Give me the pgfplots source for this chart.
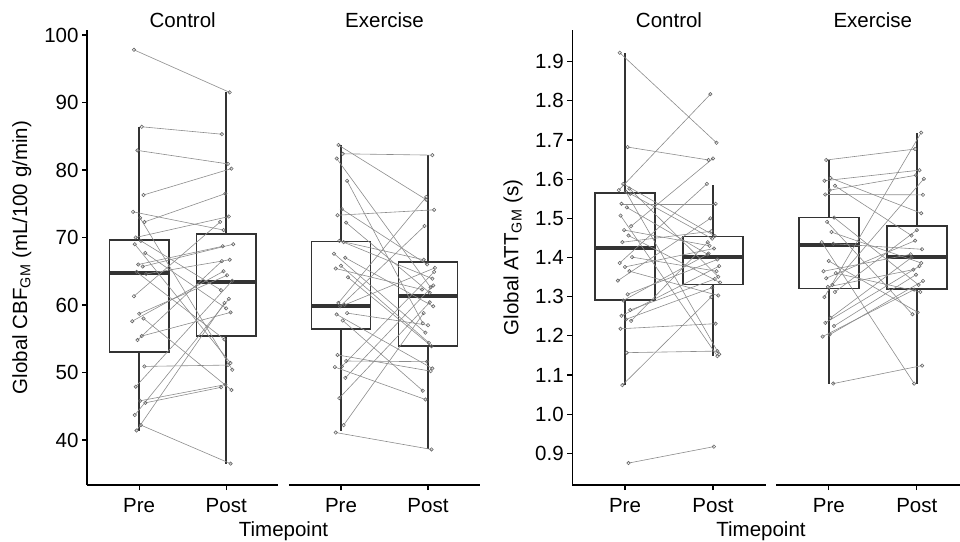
\documentclass[border=0pt]{standalone}
\usepackage{fontspec}
\setmainfont{Liberation Sans}
\usepackage{pgfplots}
\usepackage{pgfplotstable}
\pgfplotsset{compat=1.18}
\usepgfplotslibrary{statistics}
\definecolor{boxc}{HTML}{333333}
\definecolor{linec}{HTML}{8C8C8C}
\definecolor{ptc}{HTML}{666666}
\newcommand{\fs}{\fontsize{20.5}{24}\selectfont}

\pgfplotstableread{
xa a xb b
0.94 97.8 2.04 91.5
1.03 86.4 1.95 85.3
0.98 82.9 2.02 80.9
1.05 76.3 2.06 80.2
0.93 73.8 1.97 71.1
1.01 72.9 2.07 50.4
1.06 72.3 1.99 76.5
0.96 70.0 2.03 73.1
1.02 69.5 1.94 62.2
0.95 69.0 2.05 51.4
1.07 67.7 2.00 59.5
0.99 66.0 1.96 68.7
1.04 65.7 2.08 69.0
0.97 64.9 1.98 54.9
1.08 64.6 2.04 66.7
0.94 61.3 1.93 72.3
1.00 58.7 2.01 64.4
1.05 58.0 2.06 47.4
0.92 57.6 1.97 65.0
1.03 55.4 2.05 58.9
0.98 54.8 1.95 66.5
1.06 50.9 2.02 51.1
0.96 47.9 2.07 63.6
1.01 45.8 1.99 48.2
1.07 45.5 1.94 47.8
0.95 43.7 2.03 60.9
1.02 42.2 2.05 36.5
0.97 41.4 1.98 60.3
}\lctl

\pgfplotstableread{
xa a xb b
0.97 83.7 1.98 75.6
1.02 82.4 2.05 82.2
0.95 81.7 2.03 62.6
1.07 78.4 1.94 57.3
1.01 74.2 1.99 66.0
0.96 73.3 2.07 74.1
1.06 72.2 2.02 61.8
0.98 69.5 1.95 66.7
1.03 69.3 2.05 63.9
0.92 67.6 1.97 55.9
1.05 67.0 2.06 59.8
1.00 65.8 2.01 54.4
0.94 65.4 1.93 62.3
1.08 64.1 2.04 53.9
0.97 60.3 1.98 76.0
1.04 60.0 2.08 65.5
0.99 59.8 1.96 71.7
1.07 58.8 2.00 57.0
0.95 58.6 2.05 50.6
1.02 57.7 1.94 47.3
0.96 52.6 2.03 50.2
1.06 51.7 1.99 51.6
1.01 50.9 2.07 64.9
0.93 50.8 1.97 46.0
1.05 49.2 2.06 62.9
0.98 46.2 2.02 60.4
1.03 42.2 1.95 58.8
0.94 41.1 2.04 38.6
}\lex

\pgfplotstableread{
xa a xb b
0.94 1.923 2.04 1.693
1.03 1.682 1.95 1.649
0.98 1.588 2.02 1.455
1.05 1.576 2.06 1.351
0.93 1.572 1.97 1.817
1.01 1.568 2.07 1.153
1.06 1.563 1.99 1.448
0.96 1.537 2.03 1.537
1.02 1.528 1.94 1.408
0.95 1.507 2.05 1.148
1.07 1.480 2.00 1.653
0.99 1.470 1.96 1.430
1.04 1.456 2.08 1.336
0.97 1.439 1.98 1.467
1.08 1.401 2.04 1.365
0.94 1.386 1.93 1.588
1.00 1.376 2.01 1.423
1.05 1.365 2.06 1.303
0.92 1.341 1.97 1.500
1.03 1.306 2.05 1.395
0.98 1.290 1.95 1.410
1.06 1.266 2.02 1.345
0.96 1.251 2.07 1.378
1.01 1.242 1.99 1.323
1.07 1.238 1.94 1.439
0.95 1.218 2.03 1.231
1.02 1.157 2.05 1.161
0.97 1.074 1.98 1.299
1.04 0.875 2.01 0.917
}\rctl

\pgfplotstableread{
xa a xb b
0.97 1.649 1.98 1.677
1.02 1.603 2.05 1.513
0.95 1.596 2.03 1.623
1.07 1.583 1.94 1.456
1.01 1.572 1.99 1.610
0.96 1.561 2.07 1.560
1.06 1.502 2.02 1.330
0.98 1.491 1.95 1.255
1.03 1.465 2.05 1.386
0.92 1.439 1.97 1.078
1.05 1.435 2.06 1.421
1.00 1.391 2.01 1.260
0.94 1.365 1.93 1.408
1.08 1.360 2.04 1.312
0.97 1.347 1.98 1.443
1.04 1.330 2.08 1.601
0.99 1.325 1.96 1.369
1.07 1.312 2.00 1.470
0.95 1.299 2.05 1.719
1.02 1.246 1.94 1.400
0.96 1.233 2.03 1.378
1.06 1.225 1.99 1.356
1.01 1.203 2.07 1.340
0.93 1.198 1.97 1.318
1.05 1.078 2.06 1.124
}\rex

\pgfplotsset{
  boxplot/draw direction=y,
  boxplot/every median/.style={line width=4pt},
  facet/.style={
    scale only axis, height=455pt, xmin=0.4, xmax=2.6,
    axis x line*=bottom, xtick={1,2}, xticklabels={Pre,Post},
    tick align=outside, major tick length=5pt,
    axis line style={black, line width=1.1pt},
    every tick/.style={black, line width=1.1pt},
    ticklabel style={font=\fs, text=black},
    xticklabel style={yshift=-5pt},
    /pgf/number format/assume math mode=true,
    title style={font=\fs, at={(0.5,1)}, anchor=base, yshift=-4pt},
    ylabel style={font=\fs},
  },
}
\newcommand{\bx}[6]{\addplot[boxc, line width=1.6pt, boxplot prepared={draw position=#1, median=#2, lower quartile=#3, upper quartile=#4, lower whisker=#5, upper whisker=#6, box extend=0.68, whisker extend=0}] coordinates {};}
\newcommand{\pairs}[1]{%
  \addplot[linec, line width=0.6pt, quiver={u=\thisrow{xb}-\thisrow{xa}, v=\thisrow{b}-\thisrow{a}}] table[x=xa,y=a]{#1};
  \addplot[only marks, mark=o, mark size=1.7pt, ptc, mark options={line width=0.6pt}] table[x=xa,y=a]{#1};
  \addplot[only marks, mark=o, mark size=1.7pt, ptc, mark options={line width=0.6pt}] table[x=xb,y=b]{#1};
}

\begin{document}
\begin{tikzpicture}[x=1pt,y=1pt]
\useasboundingbox (0,0) rectangle (960,541);
\clip (0,0) rectangle (960,541);

\begin{axis}[facet, at={(87pt,56pt)}, width=191.4pt, ymin=33.33, ymax=100.74,
  axis y line*=left, ytick={40,50,...,100},
  ylabel={Global CBF\textsubscript{GM} (mL/100 g/min)},
  ylabel style={at={(axis description cs:-0.34,0.5)}, anchor=center},
  title={Control}]
\bx{1}{64.7}{53.0}{69.6}{41.4}{86.4}
\bx{2}{63.4}{55.4}{70.5}{36.5}{91.5}
\pairs{\lctl}
\end{axis}

\begin{axis}[facet, at={(288.8pt,56pt)}, width=191.4pt, ymin=33.33, ymax=100.74,
  hide y axis, title={Exercise}]
\bx{1}{59.9}{56.4}{69.4}{41.3}{83.7}
\bx{2}{61.3}{53.9}{66.4}{38.6}{82.2}
\pairs{\lex}
\end{axis}

\begin{axis}[facet, at={(572.2pt,56pt)}, width=193.6pt, ymin=0.819, ymax=1.981,
  axis y line*=left, ytick={0.9,1.0,1.1,1.2,1.3,1.4,1.5,1.6,1.7,1.8,1.9},
  yticklabel style={/pgf/number format/fixed, /pgf/number format/fixed zerofill, /pgf/number format/precision=1},
  ylabel={Global ATT\textsubscript{GM} (s)},
  ylabel style={at={(axis description cs:-0.305,0.5)}, anchor=center},
  title={Control}]
\bx{1}{1.423}{1.291}{1.565}{1.074}{1.923}
\bx{2}{1.400}{1.331}{1.454}{1.148}{1.585}
\pairs{\rctl}
\end{axis}

\begin{axis}[facet, at={(776pt,56pt)}, width=193.6pt, ymin=0.819, ymax=1.981,
  hide y axis, title={Exercise}]
\bx{1}{1.433}{1.321}{1.502}{1.078}{1.649}
\bx{2}{1.400}{1.320}{1.480}{1.078}{1.719}
\pairs{\rex}
\end{axis}

\node[font=\fs, anchor=base] at (283.5,5) {Timepoint};
\node[font=\fs, anchor=base] at (761,5) {Timepoint};
\end{tikzpicture}
\end{document}
